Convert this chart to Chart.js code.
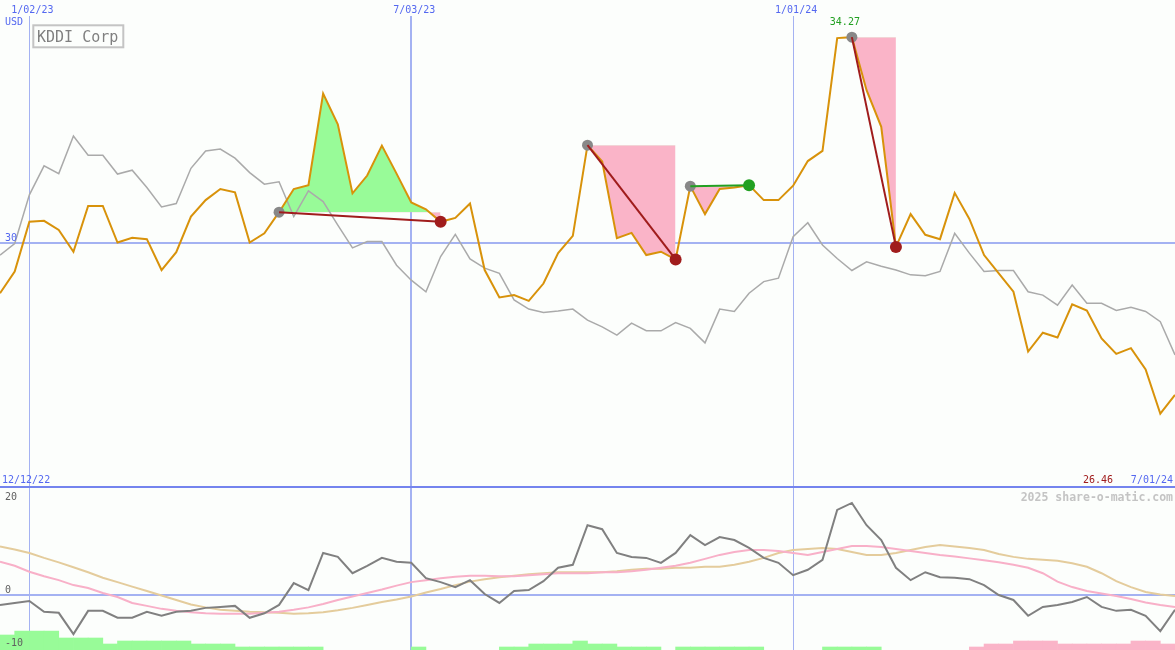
<!DOCTYPE html>
<html><head><meta charset="utf-8">
<script src="https://cdn.jsdelivr.net/npm/chart.js@4.4.0/dist/chart.umd.min.js"></script>
<style>html,body{margin:0;padding:0;background:#fcfefc;overflow:hidden}#c{display:block}</style>
</head><body><canvas id="c" width="1175" height="650"></canvas>
<script>
// ---------- data ----------
const title = 'KDDI Corp';
const currency = 'USD';
const startLabel = '12/12/22';
const endLabel = '7/01/24';
const watermark = '2025 share-o-matic.com';

const price = [28.96,29.41,30.44,30.46,30.27,29.82,30.77,30.77,30.01,30.11,
  30.08,29.44,29.81,30.55,30.89,31.12,31.05,30.01,30.20,30.64,
  31.12,31.20,33.10,32.46,31.03,31.40,32.02,31.44,30.84,30.70,
  30.44,30.52,30.82,29.44,28.87,28.92,28.80,29.16,29.79,30.15,
  32.03,31.69,30.10,30.21,29.75,29.82,29.66,31.18,30.60,31.12,
  31.15,31.20,30.89,30.89,31.19,31.70,31.91,34.25,34.27,33.17,
  32.41,29.92,30.60,30.17,30.08,31.04,30.50,29.75,29.37,28.99,
  27.75,28.14,28.04,28.73,28.60,28.02,27.70,27.82,27.38,26.46,26.85];

const index = [29.75,29.99,31.00,31.60,31.44,32.22,31.82,31.82,31.43,31.51,
  31.15,30.75,30.82,31.55,31.91,31.95,31.76,31.46,31.22,31.27,
  30.55,31.08,30.86,30.37,29.90,30.03,30.03,29.54,29.23,28.99,
  29.72,30.18,29.67,29.48,29.37,28.82,28.63,28.56,28.59,28.63,
  28.40,28.26,28.09,28.34,28.18,28.18,28.35,28.23,27.93,28.63,
  28.58,28.96,29.20,29.27,30.13,30.42,29.96,29.68,29.43,29.61,
  29.52,29.44,29.34,29.32,29.41,30.20,29.79,29.41,29.43,29.43,
  28.99,28.92,28.71,29.13,28.75,28.75,28.60,28.67,28.58,28.37,27.68];

const momentum = [-2.0,-1.6,-1.2,-3.4,-3.6,-7.9,-3.2,-3.2,-4.6,-4.6,
  -3.4,-4.2,-3.4,-3.2,-2.6,-2.4,-2.2,-4.6,-3.7,-2.0,
  2.4,1.0,8.5,7.7,4.4,5.9,7.5,6.7,6.5,3.4,
  2.6,1.6,3.0,0.2,-1.6,0.8,1.0,2.8,5.5,6.1,
  14.1,13.3,8.5,7.7,7.5,6.5,8.5,12.1,10.1,11.7,
  11.1,9.5,7.5,6.5,4.0,5.1,7.1,17.2,18.6,14.1,
  11.1,5.5,3.0,4.6,3.6,3.5,3.2,2.0,0.0,-1.0,
  -4.2,-2.4,-2.0,-1.4,-0.4,-2.4,-3.2,-3.0,-4.2,-7.3,-3.0];

const fastAvg = [6.7,5.9,4.7,3.8,3.0,2.0,1.4,0.4,-0.4,-1.6,
  -2.2,-2.8,-3.2,-3.5,-3.7,-3.8,-3.8,-3.8,-3.6,-3.4,
  -3.0,-2.5,-1.8,-1.0,-0.3,0.4,1.1,1.9,2.6,3.0,
  3.4,3.7,3.9,3.9,3.8,3.8,4.0,4.2,4.4,4.4,
  4.4,4.6,4.6,4.8,5.1,5.5,5.9,6.5,7.3,8.1,
  8.7,9.1,9.1,8.9,8.5,8.1,8.7,9.3,9.9,9.9,
  9.7,9.3,8.9,8.5,8.1,7.8,7.4,7.0,6.6,6.1,
  5.5,4.4,2.7,1.6,0.8,0.3,-0.2,-0.8,-1.5,-2.0,-2.4];

const slowAvg = [9.8,9.2,8.5,7.5,6.6,5.6,4.6,3.5,2.6,1.7,
  0.8,-0.1,-1.0,-1.9,-2.5,-3.0,-3.2,-3.4,-3.5,-3.6,
  -3.8,-3.7,-3.5,-3.1,-2.6,-2.0,-1.4,-0.9,-0.3,0.5,
  1.2,2.0,2.7,3.2,3.6,3.9,4.2,4.4,4.6,4.6,
  4.6,4.6,4.8,5.1,5.3,5.3,5.5,5.5,5.7,5.7,
  6.1,6.7,7.5,8.5,9.1,9.3,9.5,9.3,8.7,8.1,
  8.1,8.5,9.1,9.7,10.1,9.8,9.5,9.1,8.3,7.7,
  7.3,7.1,6.9,6.4,5.7,4.4,2.8,1.6,0.6,0.1,-0.2];

// weekly strength bars (between points)
const upBars = [5,6.3,6.3,6.3,4,4,4,2,3,3,
  3,3,3,2,2,2,1,1,1,1,
  1,1,0,0,0,0,0,0,1,0,
  0,0,0,0,1,1,2,2,2,3,
  2,2,1,1,1,0,1,1,1,1,
  1,1,0,0,0,0,1,1,1,1,
  0,0,0,0,0,0,0,0,0,0,
  0,0,0,0,0,0,0,0,0,0];
const downBars = [0,0,0,0,0,0,0,0,0,0,
  0,0,0,0,0,0,0,0,0,0,
  0,0,0,0,0,0,0,0,0,0,
  0,0,0,0,0,0,0,0,0,0,
  0,0,0,0,0,0,0,0,0,0,
  0,0,0,0,0,0,0,0,0,0,
  0,0,0,0,0,0,1,2,2,3,
  3,3,2,2,2,2,2,3,3,2];

const tradeEntry = [19, 40, 47, 58];
const tradeExit  = [30, 46, 51, 61];
const tradeWin   = [false, false, true, false];

const tickIndex = [2, 28, 54];
const tickLabels = ['1/02/23', '7/03/23', '1/01/24'];
const priceTicks = [30];
const oscTicks = [20, 0, -10];

// ---------- build ----------
const weekLabels = price.map((_, i) => {
  const d = new Date(2022, 11, 19 + 7 * i);
  return (d.getMonth() + 1) + '/' + String(d.getDate()).padStart(2, '0') + '/' + String(d.getFullYear()).slice(2);
});
const barLabels = weekLabels.slice(0, upBars.length);

const GREEN_FILL = '#98fb98', PINK_FILL = '#fab4c8';
const ORANGE = '#d8920a', LIGHTGRAY = '#aaaaaa', DARKRED = '#a01c1c', GREEN = '#22a022';
const NONE = 'rgba(0,0,0,0)';

const datasets = [];
function add(ds) { datasets.push(Object.assign({ type: 'line', xAxisID: 'x', yAxisID: 'y', pointRadius: 0, tension: 0, fill: false }, ds)); return datasets.length - 1; }

tradeEntry.forEach((e, k) => {
  const x = tradeExit[k];
  const lvl = price.map((v, i) => (i >= e && i <= x) ? price[e] : null);
  const li = add({ data: lvl, borderWidth: 0, borderColor: NONE, order: 20 });
  const src = price.map((v, i) => (i >= e && i <= x) ? v : null);
  add({ data: src, borderWidth: 0, borderColor: NONE, order: 19, fill: { target: li, above: GREEN_FILL, below: PINK_FILL } });
});
add({ data: index, borderColor: LIGHTGRAY, borderWidth: 1.5, order: 10 });
add({ data: price, borderColor: ORANGE, borderWidth: 2, order: 5 });
tradeEntry.forEach((e, k) => {
  const x = tradeExit[k];
  const seg = price.map((v, i) => (i === e || i === x) ? v : null);
  add({ data: seg, borderColor: tradeWin[k] ? GREEN : DARKRED, borderWidth: 2, spanGaps: true, order: 2 });
});
add({ data: price.map((v, i) => tradeEntry.includes(i) ? v : null), showLine: false, pointRadius: 5.5, pointBackgroundColor: '#888888', pointBorderWidth: 0, order: 4 });
add({ data: price.map((v, i) => { const k = tradeExit.indexOf(i); return (k >= 0 && !tradeWin[k]) ? v : null; }), showLine: false, pointRadius: 6, pointBackgroundColor: DARKRED, pointBorderWidth: 0, order: 3 });
add({ data: price.map((v, i) => { const k = tradeExit.indexOf(i); return (k >= 0 && tradeWin[k]) ? v : null; }), showLine: false, pointRadius: 6, pointBackgroundColor: GREEN, pointBorderWidth: 0, order: 3 });

// oscillator panel
add({ data: slowAvg, yAxisID: 'y2', borderColor: '#e4cc9c', borderWidth: 2, order: 8 });
add({ data: fastAvg, yAxisID: 'y2', borderColor: '#f8b0c8', borderWidth: 2, order: 7 });
add({ data: momentum, yAxisID: 'y2', borderColor: '#808080', borderWidth: 2, order: 6 });
const barBase = { type: 'bar', xAxisID: 'xb', yAxisID: 'yb', borderWidth: 0, barPercentage: 1, categoryPercentage: 1, grouped: false, order: 30 };
datasets.push(Object.assign({}, barBase, { data: upBars.map(v => v || null), backgroundColor: GREEN_FILL }));
datasets.push(Object.assign({}, barBase, { data: downBars.map(v => v || null), backgroundColor: PINK_FILL }));

const FONT = '"DejaVu Sans Mono", "Liberation Mono", monospace';
const BLUE_TXT = '#5468f0';
const GRID = '#a4b2f2';
const PANEL_SPLIT = 487;

const deco = {
  id: 'deco',
  beforeDraw(c) {
    const ctx = c.ctx;
    ctx.save(); ctx.fillStyle = '#fcfefc'; ctx.fillRect(0, 0, c.width, c.height); ctx.restore();
  },
  beforeDatasetsDraw(c) {
    const ctx = c.ctx, xs = c.scales.x, ys = c.scales.y, y2 = c.scales.y2;
    ctx.save();
    ctx.strokeStyle = GRID;
    tickIndex.forEach((ti, k) => {
      const px = Math.round(xs.getPixelForValue(ti));
      const w = (k === 1) ? 2 : 1;
      ctx.lineWidth = w;
      const xx = w === 2 ? px : px + 0.5;
      ctx.beginPath(); ctx.moveTo(xx, 16); ctx.lineTo(xx, c.height); ctx.stroke();
    });
    ctx.lineWidth = 2;
    priceTicks.forEach(v => { const py = Math.round(ys.getPixelForValue(v)); ctx.beginPath(); ctx.moveTo(0, py); ctx.lineTo(c.width, py); ctx.stroke(); });
    const z = Math.round(y2.getPixelForValue(0));
    ctx.beginPath(); ctx.moveTo(0, z); ctx.lineTo(c.width, z); ctx.stroke();
    ctx.restore();
  },
  afterDraw(c) {
    const ctx = c.ctx, xs = c.scales.x, ys = c.scales.y, y2 = c.scales.y2;
    ctx.save();
    ctx.strokeStyle = '#7484ee'; ctx.lineWidth = 2;
    ctx.beginPath(); ctx.moveTo(0, PANEL_SPLIT); ctx.lineTo(c.width, PANEL_SPLIT); ctx.stroke();
    ctx.font = '10px ' + FONT; ctx.textBaseline = 'alphabetic';
    ctx.fillStyle = BLUE_TXT; ctx.textAlign = 'center';
    tickIndex.forEach((ti, k) => ctx.fillText(tickLabels[k], xs.getPixelForValue(ti) + 3, 13));
    ctx.textAlign = 'left';
    ctx.fillText(currency, 5, 25);
    priceTicks.forEach(v => ctx.fillText(String(v), 5, ys.getPixelForValue(v) - 2));
    let mi = 0, ni = 0;
    price.forEach((v, i) => { if (v > price[mi]) mi = i; if (v < price[ni]) ni = i; });
    ctx.fillStyle = GREEN; ctx.textAlign = 'center';
    ctx.fillText(price[mi].toFixed(2), xs.getPixelForValue(mi) - 7, 25);
    ctx.fillStyle = DARKRED; ctx.textAlign = 'right';
    ctx.fillText(price[ni].toFixed(2), 1113, PANEL_SPLIT - 4);
    ctx.fillStyle = BLUE_TXT;
    ctx.fillText(endLabel, c.width - 2, PANEL_SPLIT - 4);
    ctx.textAlign = 'left';
    ctx.fillText(startLabel, 2, PANEL_SPLIT - 4);
    ctx.font = 'bold 11.5px ' + FONT; ctx.fillStyle = '#c4c4c4'; ctx.textAlign = 'right';
    ctx.fillText(watermark, c.width - 2, 501);
    ctx.font = '10px ' + FONT; ctx.fillStyle = '#606060'; ctx.textAlign = 'left';
    oscTicks.forEach(v => {
      const py = y2.getPixelForValue(v);
      const base = v === 0 ? py - 2 : Math.min(py + 4, c.height - 4);
      ctx.fillText(String(v), 5, base);
    });
    ctx.fillStyle = '#fcfefc'; ctx.fillRect(33, 25, 91, 23);
    ctx.strokeStyle = '#c4c4c4'; ctx.lineWidth = 2; ctx.strokeRect(33.3, 25.3, 90, 22);
    ctx.font = '15px ' + FONT; ctx.fillStyle = '#808080'; ctx.textAlign = 'left';
    ctx.fillText(title, 37, 42);
    ctx.restore();
  }
};

new Chart(document.getElementById('c'), {
  type: 'line',
  data: { labels: weekLabels, datasets },
  options: {
    responsive: false, animation: false, events: [],
    layout: { padding: 0, autoPadding: false },
    plugins: { legend: { display: false }, tooltip: { enabled: false } },
    scales: {
      x: { type: 'category', labels: weekLabels, offset: false, display: false },
      xb: { type: 'category', labels: barLabels, offset: true, display: false },
      y: { type: 'linear', min: 21.56, max: 35.04, display: false },
      y2: { type: 'linear', min: -11.11, max: 120.2, display: false },
      yb: { type: 'linear', min: 0, max: 216.7, display: false }
    }
  },
  plugins: [deco]
});
</script>
</body></html>
